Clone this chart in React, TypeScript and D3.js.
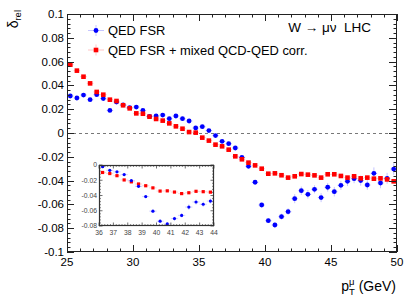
import React from 'react';
import * as d3 from 'd3';

const ptBins = [
  25.25, 25.75, 26.25, 26.75, 27.25, 27.75, 28.25, 28.75, 29.25, 29.75,
  30.25, 30.75, 31.25, 31.75, 32.25, 32.75, 33.25, 33.75, 34.25, 34.75,
  35.25, 35.75, 36.25, 36.75, 37.25, 37.75, 38.25, 38.75, 39.25, 39.75,
  40.25, 40.75, 41.25, 41.75, 42.25, 42.75, 43.25, 43.75, 44.25, 44.75,
  45.25, 45.75, 46.25, 46.75, 47.25, 47.75, 48.25, 48.75, 49.25, 49.75,
];
const binHalfWidth = 0.25;

const qedFsr = [
  0.0311, 0.0294, 0.0319, 0.0280, 0.0322, 0.0289, 0.0190, 0.0260, 0.0236, 0.0213,
  0.0218, 0.0190, 0.0140, 0.0143, 0.0151, 0.0120, 0.0143, 0.0120, 0.0101, 0.0042,
  0.0053, 0.0020, -0.0022, -0.0070, -0.0090, -0.0126, -0.0204, -0.0280, -0.0414, -0.0605,
  -0.0737, -0.0773, -0.0703, -0.0661, -0.0552, -0.0485, -0.0515, -0.0473, -0.0543, -0.0456,
  -0.0493, -0.0440, -0.0406, -0.0384, -0.0400, -0.0437, -0.0339, -0.0420, -0.0381, -0.0303,
];
const qedFsrErr = [
  0.0008, 0.0008, 0.0008, 0.0008, 0.0008, 0.0008, 0.0008, 0.0009, 0.0009, 0.0009,
  0.0009, 0.0009, 0.0010, 0.0010, 0.0010, 0.0010, 0.0010, 0.0011, 0.0011, 0.0011,
  0.0012, 0.0012, 0.0012, 0.0013, 0.0013, 0.0014, 0.0014, 0.0015, 0.0016, 0.0018,
  0.0020, 0.0022, 0.0025, 0.0028, 0.0038, 0.0035, 0.0036, 0.0034, 0.0038, 0.0036,
  0.0040, 0.0038, 0.0040, 0.0038, 0.0042, 0.0040, 0.0050, 0.0044, 0.0046, 0.0049,
];
const qedMixed = [
  0.0574, 0.0524, 0.0473, 0.0417, 0.0345, 0.0322, 0.0280, 0.0269, 0.0233, 0.0207,
  0.0165, 0.0162, 0.0137, 0.0118, 0.0104, 0.0081, 0.0056, 0.0036, 0.0008, 0.0003,
  -0.0039, -0.0064, -0.0098, -0.0112, -0.0140, -0.0196, -0.0221, -0.0249, -0.0272, -0.0300,
  -0.0342, -0.0339, -0.0355, -0.0375, -0.0364, -0.0345, -0.0350, -0.0356, -0.0375, -0.0347,
  -0.0347, -0.0361, -0.0375, -0.0364, -0.0381, -0.0375, -0.0384, -0.0381, -0.0390, -0.0406,
];
const qedMixedErr = [
  0.0006, 0.0006, 0.0006, 0.0006, 0.0006, 0.0006, 0.0006, 0.0006, 0.0006, 0.0006,
  0.0007, 0.0007, 0.0007, 0.0007, 0.0007, 0.0007, 0.0007, 0.0007, 0.0008, 0.0008,
  0.0008, 0.0008, 0.0008, 0.0009, 0.0009, 0.0009, 0.0009, 0.0010, 0.0010, 0.0010,
  0.0011, 0.0011, 0.0011, 0.0012, 0.0012, 0.0012, 0.0013, 0.0013, 0.0013, 0.0014,
  0.0014, 0.0014, 0.0015, 0.0015, 0.0015, 0.0016, 0.0016, 0.0016, 0.0017, 0.0017,
];

const xTickLabels = [25, 30, 35, 40, 45, 50];
const yTickLabels = [0.1, 0.08, 0.06, 0.04, 0.02, 0, -0.02, -0.04, -0.06, -0.08, -0.1];
const insetXTickLabels = [36, 37, 38, 39, 40, 41, 42, 43, 44];
const insetYTickLabels = [0, -0.02, -0.04, -0.06, -0.08];

const seriesNames = ['QED FSR', 'QED FSR + mixed QCD-QED corr.'];
const processLabel = 'W \u2192 \u03bc\u03bd\u00a0\u00a0LHC';

const BLUE = '#0000ff';
const RED = '#ff0000';
const BLUE_ERR = 'rgba(90,90,255,0.35)';
const RED_ERR = 'rgba(255,90,90,0.35)';
const FONT = 'Liberation Sans, Arial, Helvetica, sans-serif';

function fmt(v: number) {
  if (v === 0) return '0';
  return String(+v.toFixed(2));
}

export default function App() {
  const W = 418, H = 300;
  const L = 67, R = 397, T = 14, B = 252;
  const x = d3.scaleLinear().domain([25, 50]).range([L, R]);
  const y = d3.scaleLinear().domain([-0.1, 0.1]).range([B, T]);

  const xMinor = d3.range(25, 50.001, 1);
  const yMinor = d3.range(-0.1, 0.1001, 0.004).map((v) => +v.toFixed(4));

  // inset
  const iL = 99, iR = 214, iT = 165, iB = 226;
  const ix = d3.scaleLinear().domain([36, 44]).range([iL, iR]);
  const iy = d3.scaleLinear().domain([-0.08, 0]).range([iB, iT]);
  const ixMinor = d3.range(36, 44.001, 0.2).map((v) => +v.toFixed(2));
  const iyMinor = d3.range(-0.08, 0.0001, 0.004).map((v) => +v.toFixed(4));

  const idx = ptBins.map((_, i) => i);
  const insetIdx = idx.filter((i) => ptBins[i] > 36 && ptBins[i] < 44);

  const majX = 7, minX = 3.5, majY = 7, minY = 3.5;

  return (
    <svg width={W} height={H} style={{ position: 'absolute', left: 0, top: 0, background: '#fff' }} fontFamily={FONT}>
      <rect x={0} y={0} width={W} height={H} fill="#fff" />
      {/* zero line */}
      <line x1={L} x2={R} y1={y(0) + 0.5} y2={y(0) + 0.5} stroke="#555" strokeWidth={0.8} strokeDasharray="3,3" />

      {/* error bars main */}
      {idx.map((i) => (
        <g key={'be' + i}>
          <line x1={x(ptBins[i] - binHalfWidth)} x2={x(ptBins[i] + binHalfWidth)} y1={y(qedFsr[i])} y2={y(qedFsr[i])} stroke={BLUE_ERR} strokeWidth={1} />
          <line x1={x(ptBins[i])} x2={x(ptBins[i])} y1={y(qedFsr[i] - qedFsrErr[i])} y2={y(qedFsr[i] + qedFsrErr[i])} stroke={BLUE_ERR} strokeWidth={1} />
          <line x1={x(ptBins[i] - binHalfWidth)} x2={x(ptBins[i] + binHalfWidth)} y1={y(qedMixed[i])} y2={y(qedMixed[i])} stroke={RED_ERR} strokeWidth={1} />
          <line x1={x(ptBins[i])} x2={x(ptBins[i])} y1={y(qedMixed[i] - qedMixedErr[i])} y2={y(qedMixed[i] + qedMixedErr[i])} stroke={RED_ERR} strokeWidth={1} />
        </g>
      ))}
      {/* markers main */}
      {idx.map((i) => (
        <circle key={'b' + i} cx={x(ptBins[i])} cy={y(qedFsr[i])} r={2.4} fill={BLUE} />
      ))}
      {idx.map((i) => (
        <rect key={'r' + i} x={x(ptBins[i]) - 2.3} y={y(qedMixed[i]) - 2.3} width={4.6} height={4.6} fill={RED} />
      ))}

      {/* frame */}
      <rect x={L + 0.5} y={T + 0.5} width={R - L - 1} height={B - T - 1} fill="none" stroke="#222" strokeWidth={1} />
      {xMinor.map((v) => {
        const major = Math.abs(v - Math.round(v)) < 1e-6 && Math.round(v) % 5 === 0;
        const len = major ? majX : minX;
        const xx = Math.round(x(v)) + 0.5;
        return (
          <g key={'xt' + v}>
            <line x1={xx} x2={xx} y1={B} y2={B - len} stroke="#222" strokeWidth={1} />
            <line x1={xx} x2={xx} y1={T} y2={T + len} stroke="#222" strokeWidth={1} />
          </g>
        );
      })}
      {yMinor.map((v) => {
        const major = Math.abs(v / 0.02 - Math.round(v / 0.02)) < 1e-6;
        const len = major ? majY : minY;
        const yy = Math.round(y(v)) + 0.5;
        return (
          <g key={'yt' + v}>
            <line x1={L} x2={L + len} y1={yy} y2={yy} stroke="#222" strokeWidth={1} />
            <line x1={R} x2={R - (major ? 8 : len)} y1={yy} y2={yy} stroke="#222" strokeWidth={1} />
          </g>
        );
      })}
      {xTickLabels.map((v) => (
        <text key={'xl' + v} x={x(v)} y={266} fontSize={11.5} textAnchor="middle" fill="#000">{v}</text>
      ))}
      {yTickLabels.map((v) => (
        <text key={'yl' + v} x={64} y={y(v) + 4} fontSize={11.5} textAnchor="end" fill="#000">{fmt(v)}</text>
      ))}

      {/* axis titles */}
      <text x={396} y={291} fontSize={14} textAnchor="end" fill="#000">
        p<tspan dy={-6} fontSize={9.5}>{'\u03bc'}</tspan><tspan dx={-5.5} dy={10} fontSize={9.5}>T</tspan><tspan dy={-4}>{' (GeV)'}</tspan>
      </text>
      <text transform="translate(18,10) rotate(-90)" fontSize={14} textAnchor="end" fill="#000">
        {'\u03b4'}<tspan dy={2.5} fontSize={9.5}>rel</tspan>
      </text>

      {/* legend */}
      <line x1={88} x2={104} y1={30.5} y2={30.5} stroke={BLUE_ERR} strokeWidth={1} />
      <line x1={96} x2={96} y1={25} y2={36} stroke={BLUE_ERR} strokeWidth={1} />
      <circle cx={96} cy={30.5} r={2.4} fill={BLUE} />
      <text x={108} y={35} fontSize={12.9} fill="#000">{seriesNames[0]}</text>
      <line x1={88} x2={104} y1={50} y2={50} stroke={RED_ERR} strokeWidth={1} />
      <line x1={96} x2={96} y1={44.5} y2={55.5} stroke={RED_ERR} strokeWidth={1} />
      <rect x={96 - 2.3} y={50 - 2.3} width={4.6} height={4.6} fill={RED} />
      <text x={108} y={54.5} fontSize={12.9} fill="#000">{seriesNames[1]}</text>

      <text x={371} y={32} fontSize={13.5} textAnchor="end" fill="#000">{processLabel}</text>

      {/* inset */}
      <rect x={iL} y={iT} width={iR - iL} height={iB - iT} fill="#fff" />
      {insetIdx.map((i) => (
        <g key={'ie' + i}>
          <line x1={ix(ptBins[i] - binHalfWidth)} x2={ix(ptBins[i] + binHalfWidth)} y1={iy(qedFsr[i])} y2={iy(qedFsr[i])} stroke={BLUE_ERR} strokeWidth={0.8} />
          <line x1={ix(ptBins[i])} x2={ix(ptBins[i])} y1={iy(qedFsr[i] - qedFsrErr[i])} y2={iy(qedFsr[i] + qedFsrErr[i])} stroke={BLUE_ERR} strokeWidth={0.8} />
          <line x1={ix(ptBins[i] - binHalfWidth)} x2={ix(ptBins[i] + binHalfWidth)} y1={iy(qedMixed[i])} y2={iy(qedMixed[i])} stroke={RED_ERR} strokeWidth={0.8} />
        </g>
      ))}
      {insetIdx.map((i) => (
        <rect key={'ir' + i} x={ix(ptBins[i]) - 1.6} y={iy(qedMixed[i]) - 1.6} width={3.2} height={3.2} fill={RED} />
      ))}
      {insetIdx.map((i) => (
        <circle key={'ib' + i} cx={ix(ptBins[i])} cy={iy(qedFsr[i])} r={1.6} fill={BLUE} />
      ))}
      <rect x={iL + 0.5} y={iT + 0.5} width={iR - iL - 1} height={iB - iT - 1} fill="none" stroke="#333" strokeWidth={1.2} />
      {ixMinor.map((v) => {
        const major = Math.abs(v - Math.round(v)) < 1e-6;
        const len = major ? 3.5 : 1.8;
        const xx = ix(v);
        return (
          <g key={'ixt' + v}>
            <line x1={xx} x2={xx} y1={iB} y2={iB - len} stroke="#333" strokeWidth={0.7} />
            <line x1={xx} x2={xx} y1={iT} y2={iT + len} stroke="#333" strokeWidth={0.7} />
          </g>
        );
      })}
      {iyMinor.map((v) => {
        const major = Math.abs(v / 0.02 - Math.round(v / 0.02)) < 1e-6;
        const len = major ? 3.5 : 1.8;
        const yy = iy(v);
        return (
          <g key={'iyt' + v}>
            <line x1={iL} x2={iL + len} y1={yy} y2={yy} stroke="#333" strokeWidth={0.7} />
            <line x1={iR} x2={iR - len} y1={yy} y2={yy} stroke="#333" strokeWidth={0.7} />
          </g>
        );
      })}
      {insetXTickLabels.map((v) => (
        <text key={'ixl' + v} x={ix(v)} y={235} fontSize={6.8} textAnchor="middle" fill="#444">{v}</text>
      ))}
      {insetYTickLabels.map((v) => (
        <text key={'iyl' + v} x={97} y={iy(v) + 2.3} fontSize={6.8} textAnchor="end" fill="#444">{fmt(v)}</text>
      ))}
    </svg>
  );
}
